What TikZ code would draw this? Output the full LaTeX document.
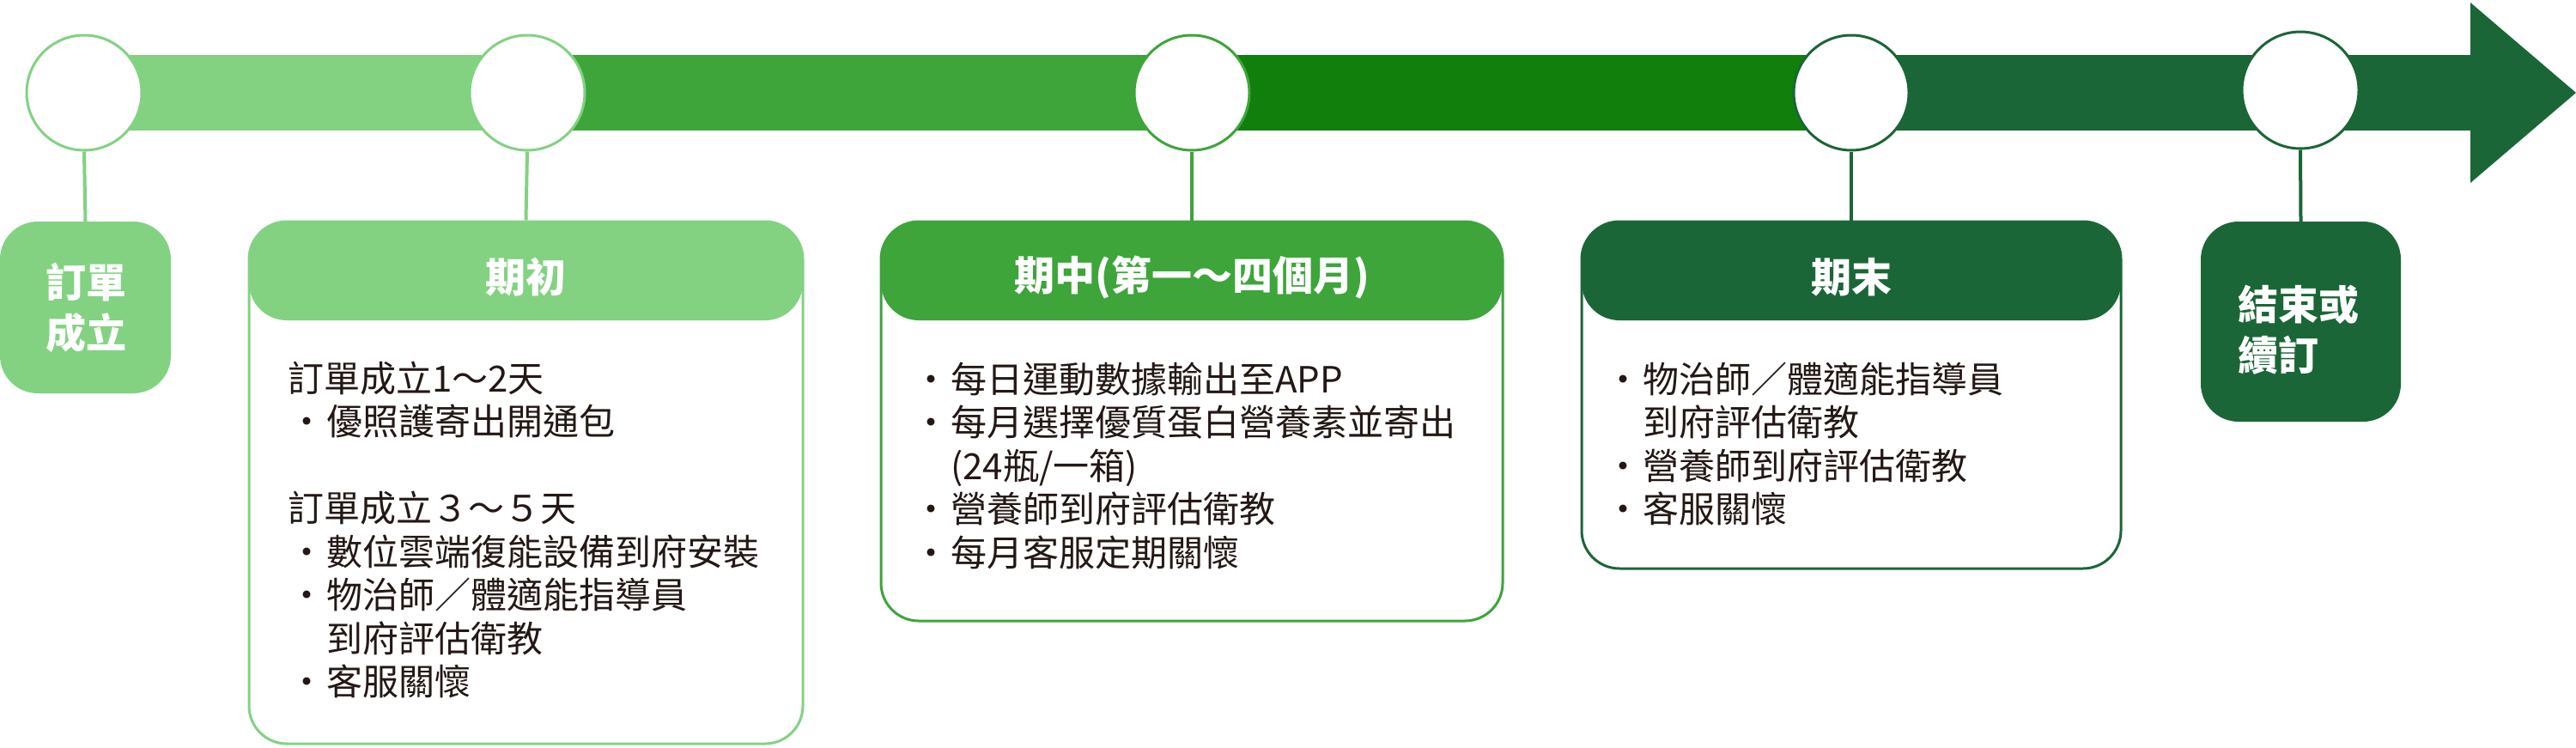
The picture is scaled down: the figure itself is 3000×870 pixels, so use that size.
\documentclass[tikz,border=0pt]{standalone}
\usepackage{fontspec}
\newfontfamily\cjk{Noto Sans CJK TC}
\definecolor{lg}{HTML}{82D282}
\definecolor{mg}{HTML}{3DA53A}
\definecolor{bg}{HTML}{107F0C}
\definecolor{dg}{HTML}{1B6636}
\definecolor{txt}{HTML}{231815}
\newcommand\bul{\makebox[45pt][c]{•}}
\newcommand\ind{\hspace*{45pt}}
\tikzset{
  dot/.style={circle, draw=#1, fill=white, line width=3pt, minimum size=134pt, inner sep=0pt},
  conn/.style={draw=#1, line width=4pt},
  solidbox/.style={rectangle, rounded corners=44pt, fill=#1, inner sep=0pt},
  cardbox/.style={rectangle, rounded corners=44pt, draw=#1, fill=white, line width=3pt, inner sep=0pt,
    path picture={\fill[#1] (path picture bounding box.north west) rectangle ([yshift=-115pt]path picture bounding box.north east);}},
  titletext/.style={inner sep=0pt, text=white, font=\cjk\bfseries\fontsize{47}{59}\selectfont},
  bodytext/.style={anchor=base west, inner sep=0pt, text width=660pt, align=left, text=txt, font=\cjk\fontsize{42}{50.5}\selectfont}
}
\begin{document}
\begin{tikzpicture}[x=1pt,y=-1pt]
\useasboundingbox (0,0) rectangle (3000,870);
% timeline positions
\coordinate (p1) at (98,108);
\coordinate (p2) at (614,108);
\coordinate (p3) at (1388,108);
\coordinate (p4) at (2156,108);
\coordinate (p5) at (2679,105);
\coordinate (pe) at (2880,108);
% bar
\fill[lg] ([yshift=44pt]p1) rectangle ([yshift=-44pt]p2);
\fill[mg] ([yshift=44pt]p2) rectangle ([yshift=-44pt]p3);
\fill[bg] ([yshift=44pt]p3) rectangle ([yshift=-44pt]p4);
\fill[dg] ([yshift=44pt]p4) rectangle ([yshift=-44pt]pe);
\fill[dg] (2877,3) -- (3000,108) -- (2877,213) -- cycle;
% circles
\node[dot=lg] (c1) at (p1) {};
\node[dot=lg] (c2) at (p2) {};
\node[dot=mg] (c3) at (p3) {};
\node[dot=dg] (c4) at (p4) {};
\node[dot=dg, minimum size=136pt] (c5) at (p5) {};
% boxes
\node[solidbox=lg, minimum width=199pt, minimum height=200pt] (b1) at (99.5,358) {};
\node[cardbox=lg, minimum width=645pt, minimum height=608pt] (b2) at (612.5,562) {};
\node[cardbox=mg, minimum width=724pt, minimum height=465pt] (b3) at (1388,490.5) {};
\node[cardbox=dg, minimum width=628pt, minimum height=404pt] (b4) at (2156,460) {};
\node[solidbox=dg, minimum width=233pt, minimum height=233pt] (b5) at (2679.5,374.5) {};
% connectors
\draw[conn=lg] (c1.south) -- (b1.north);
\draw[conn=lg] (c2.south) -- (b2.north);
\draw[conn=mg] (c3.south) -- (b3.north);
\draw[conn=dg] (c4.south) -- (b4.north);
\draw[conn=dg] (c5.south) -- (b5.north);
% titles
\node[titletext, align=center] (t1) at (100,358.5) {訂單\\成立};
\node[titletext] (t2) at (612.5,323) {期初};
\node[titletext] (t3) at (1388,323) {期中(第一～四個月)};
\node[titletext] (t4) at (2156,323) {期末};
\node[titletext, align=left, anchor=west] (t5) at (2606,384) {結束或\\續訂};
% body texts
\node[bodytext] (d2) at (335,456) {訂單成立1～2天\\
\bul 優照護寄出開通包\\[50.5pt]
訂單成立３～５天\\
\bul 數位雲端復能設備到府安裝\\
\bul 物治師／體適能指導員\\
\ind 到府評估衛教\\
\bul 客服關懷};
\node[bodytext] (d3) at (1062,457) {\bul 每日運動數據輸出至APP\\
\bul 每月選擇優質蛋白營養素並寄出\\
\ind (24瓶/一箱)\\
\bul 營養師到府評估衛教\\
\bul 每月客服定期關懷};
\node[bodytext] (d4) at (1868,457) {\bul 物治師／體適能指導員\\
\ind 到府評估衛教\\
\bul 營養師到府評估衛教\\
\bul 客服關懷};
\end{tikzpicture}
\end{document}
